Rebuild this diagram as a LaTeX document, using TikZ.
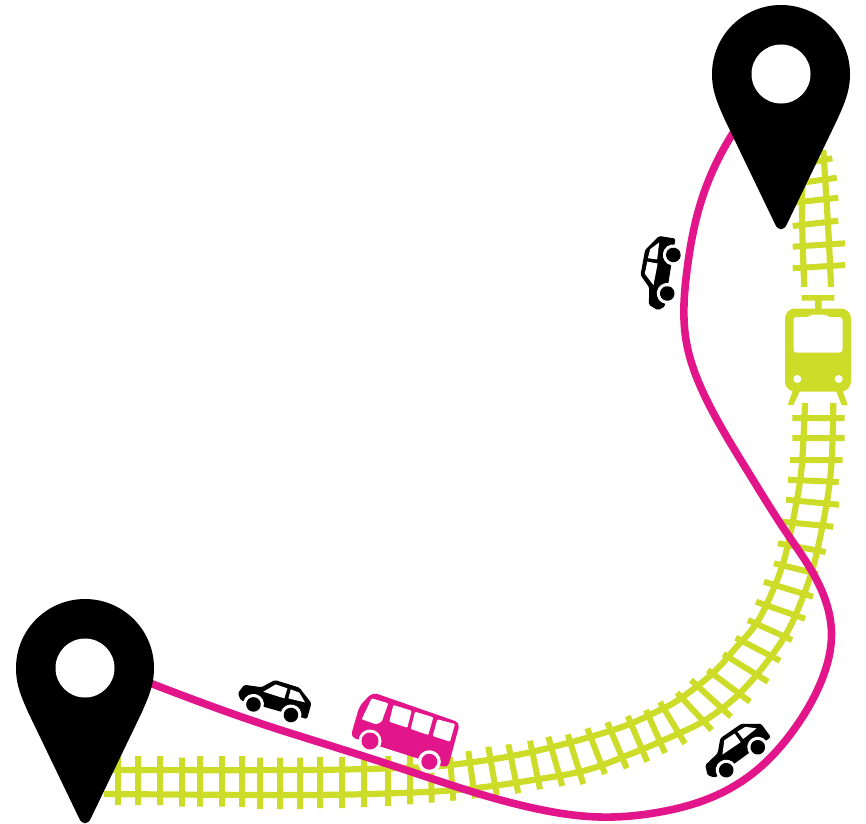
\documentclass[tikz,border=0pt]{standalone}
\usetikzlibrary{hobby}
\definecolor{railc}{HTML}{CDDC29}
\definecolor{routec}{HTML}{E2158A}
\tikzset{
  x=1pt,y=-1pt,
  railline/.style={draw=railc,line width=6.2pt},
  sleeperline/.style={draw=railc,line width=6pt},
  routeline/.style={draw=routec,line width=7.6pt},
  pinmark/.pic={
    \fill[black] (-69,0) arc[start angle=180,end angle=0,radius=69pt]
      .. controls (69,18) and (63,30) .. (57,44) -- (6,150)
      .. controls (3,157) and (-3,157) .. (-6,150) -- (-57,44)
      .. controls (-63,30) and (-69,18) .. (-69,0) -- cycle;
    \fill[white] (0,0) circle[radius=29.5pt];
  },
  carmark/.pic={
    \fill[black,rounded corners=1.5pt] (-37.5,-6.8) -- (-33.6,-16.4) -- (-16.5,-18.7) -- (-5.5,-29.3) -- (20,-28.7) -- (36,-17) -- (36,-0.5) -- (-33,-0.5) -- cycle;
    \fill[white] (-13.4,-14.9) -- (-3.5,-25.3) -- (8.8,-24.7) -- (8.6,-14.2) -- cycle;
    \fill[white] (12.3,-24.6) -- (21.5,-23.8) -- (29.6,-16) -- (12.5,-15.3) -- cycle;
    \foreach \wx in {-19.5,19.5}{
      \fill[white] (\wx,0) circle[radius=10.5pt];
      \fill[black] (\wx,0) circle[radius=7.3pt];
    }
  }
}
\begin{document}
\begin{tikzpicture}
\useasboundingbox (0,0) rectangle (866,823);
% lower track rails
\draw[railline] plot[smooth,tension=0.6] coordinates {(104,770) (300,770) (400,768) (450,765) (526.7,753) (613,730) (660,710) (683,696.7) (713,673) (736.7,646.7) (756.7,623) (773,590) (785,556.7) (795,510) (801.7,466.7) (805,403)};
\draw[railline] plot[smooth,tension=0.6] coordinates {(104,794) (300,795) (400,793) (466.7,789) (533,780) (586.7,770) (633,753) (660,741.7) (696.7,725) (720,710) (740,693) (763,667) (786.7,633) (803,596.7) (815,560) (826.7,503) (831.7,460) (833.3,403)};
% upper track rails
\draw[railline] plot[smooth,tension=0.6] coordinates {(804.3,287) (802.3,230) (802.3,190) (806,150)};
\draw[railline] plot[smooth,tension=0.6] coordinates {(831,287) (828.3,230) (823.3,150)};
% sleepers
\draw[sleeperline]
 (118,756)--(118,805) (138,756)--(138,805) (160,756)--(160,805) (182,757.7)--(182,806.7)
 (200,756)--(200,806.7) (222,756)--(222,806.7) (242,756)--(242,807) (260,757.7)--(260,809)
 (280,757.7)--(280,809) (300,757.7)--(300,809) (320,757)--(320,808) (342,757)--(342,808)
 (364,757)--(364,807) (388,756)--(388,806) (410,755)--(410,804.3) (431,755)--(431.7,802.7)
 (450,757)--(453.3,800.7) (468.3,751)--(475,798.3) (488.3,746.7)--(496.7,795)
 (508.3,744.3)--(518.3,793.3) (530,740.7)--(540,789.3) (548.3,736.7)--(562.3,786)
 (567.7,734.3)--(583.3,784) (587.3,728.3)--(605,774) (607.3,722.3)--(626.7,768.3)
 (627.7,716)--(647.3,761.7) (646,710)--(665,753) (660,702)--(685,743.7)
 (677,692.7)--(711.7,730) (691,680)--(731,716.7) (707.7,670)--(750,701.7)
 (723.3,654)--(768,681.7) (735.7,637.7)--(780,660.7) (748,620)--(792,640)
 (756,601.7)--(805,618.7) (764,581.7)--(813,596.7) (774,563.3)--(818,574)
 (778,543.3)--(825.7,552) (781.7,521.7)--(833.3,526.7) (786,499.7)--(839,504.7)
 (788,479.7)--(838.7,482) (790,460)--(842.7,460) (792.3,438)--(844.7,438) (792.3,418)--(844.7,418)
 (792.7,268.3)--(845,265) (792.7,246.7)--(845,243.3) (792.7,226)--(838.3,220.7)
 (795,202.5)--(838.3,197.7) (800,183)--(836.7,177.7) (810,162.5)--(832.3,158.3);
% train
\fill[railc,rounded corners=10pt] (785,308.5) rectangle (851,391.5);
\fill[white,rounded corners=3pt] (793.5,317) -- (810,317) -- (811,314.5) -- (826,314.5) -- (827,317) -- (842.5,317) -- (842.5,352.5) -- (793.5,352.5) -- cycle;
\fill[white] (797.3,379) circle[radius=4pt] (838.7,379) circle[radius=4pt];
\fill[railc] (815,300) rectangle (821.5,310) (801.7,295) rectangle (834.3,300.7);
\fill[railc] (792.7,391) -- (800,391) -- (793.3,405) -- (787.7,405) -- cycle;
\fill[railc] (836,391) -- (842.7,391) -- (847.7,405) -- (841.7,405) -- cycle;
% route
\draw[routeline,use Hobby shortcut] (150,683) .. (290,733) .. (400,768) .. (466.7,790) .. (533,808) .. (600,817) .. (660,812) .. (705,800) .. (752,774) .. (795,728) .. (823,676.7) .. (831.5,635) .. (816.7,580) .. (786.7,533) .. (750,475) .. (706.7,400) .. (686,340) .. (687,270) .. (700,205) .. (735,130);
% pins
\pic at (85,668) {pinmark};
\pic at (781,74) {pinmark};
% cars
\pic[rotate=-15.8] at (272.2,709.7) {carmark};
\pic[rotate=36] at (742,758.7) {carmark};
\pic[rotate=81] at (670.3,274.2) {carmark};
% bus
\fill[routec,rounded corners=5pt] (372.6,692.3) -- (460,722.7) -- (447.8,768) -- (350.5,737) -- (359.5,706) -- cycle;
\fill[white,rounded corners=1pt] (371.7,698.3) -- (388.3,703.3) -- (381.7,721.7) -- (376,724.3) -- (361.7,719.3) -- cycle;
\fill[white,rounded corners=1pt] (393.3,705) -- (411.7,710.7) -- (407.3,727.7) -- (389.3,721.7) -- cycle;
\fill[white,rounded corners=1pt] (415,711.7) -- (433.3,717.3) -- (428.3,735) -- (410.7,729) -- cycle;
\fill[white,rounded corners=1pt] (437.3,719.3) -- (455,724) -- (450,741.7) -- (432.7,736) -- cycle;
\fill[white] (370,741) circle[radius=11.5pt] (429.3,761.7) circle[radius=11.5pt];
\fill[routec] (370,741) circle[radius=8.5pt] (429.3,761.7) circle[radius=8pt];
\end{tikzpicture}
\end{document}
